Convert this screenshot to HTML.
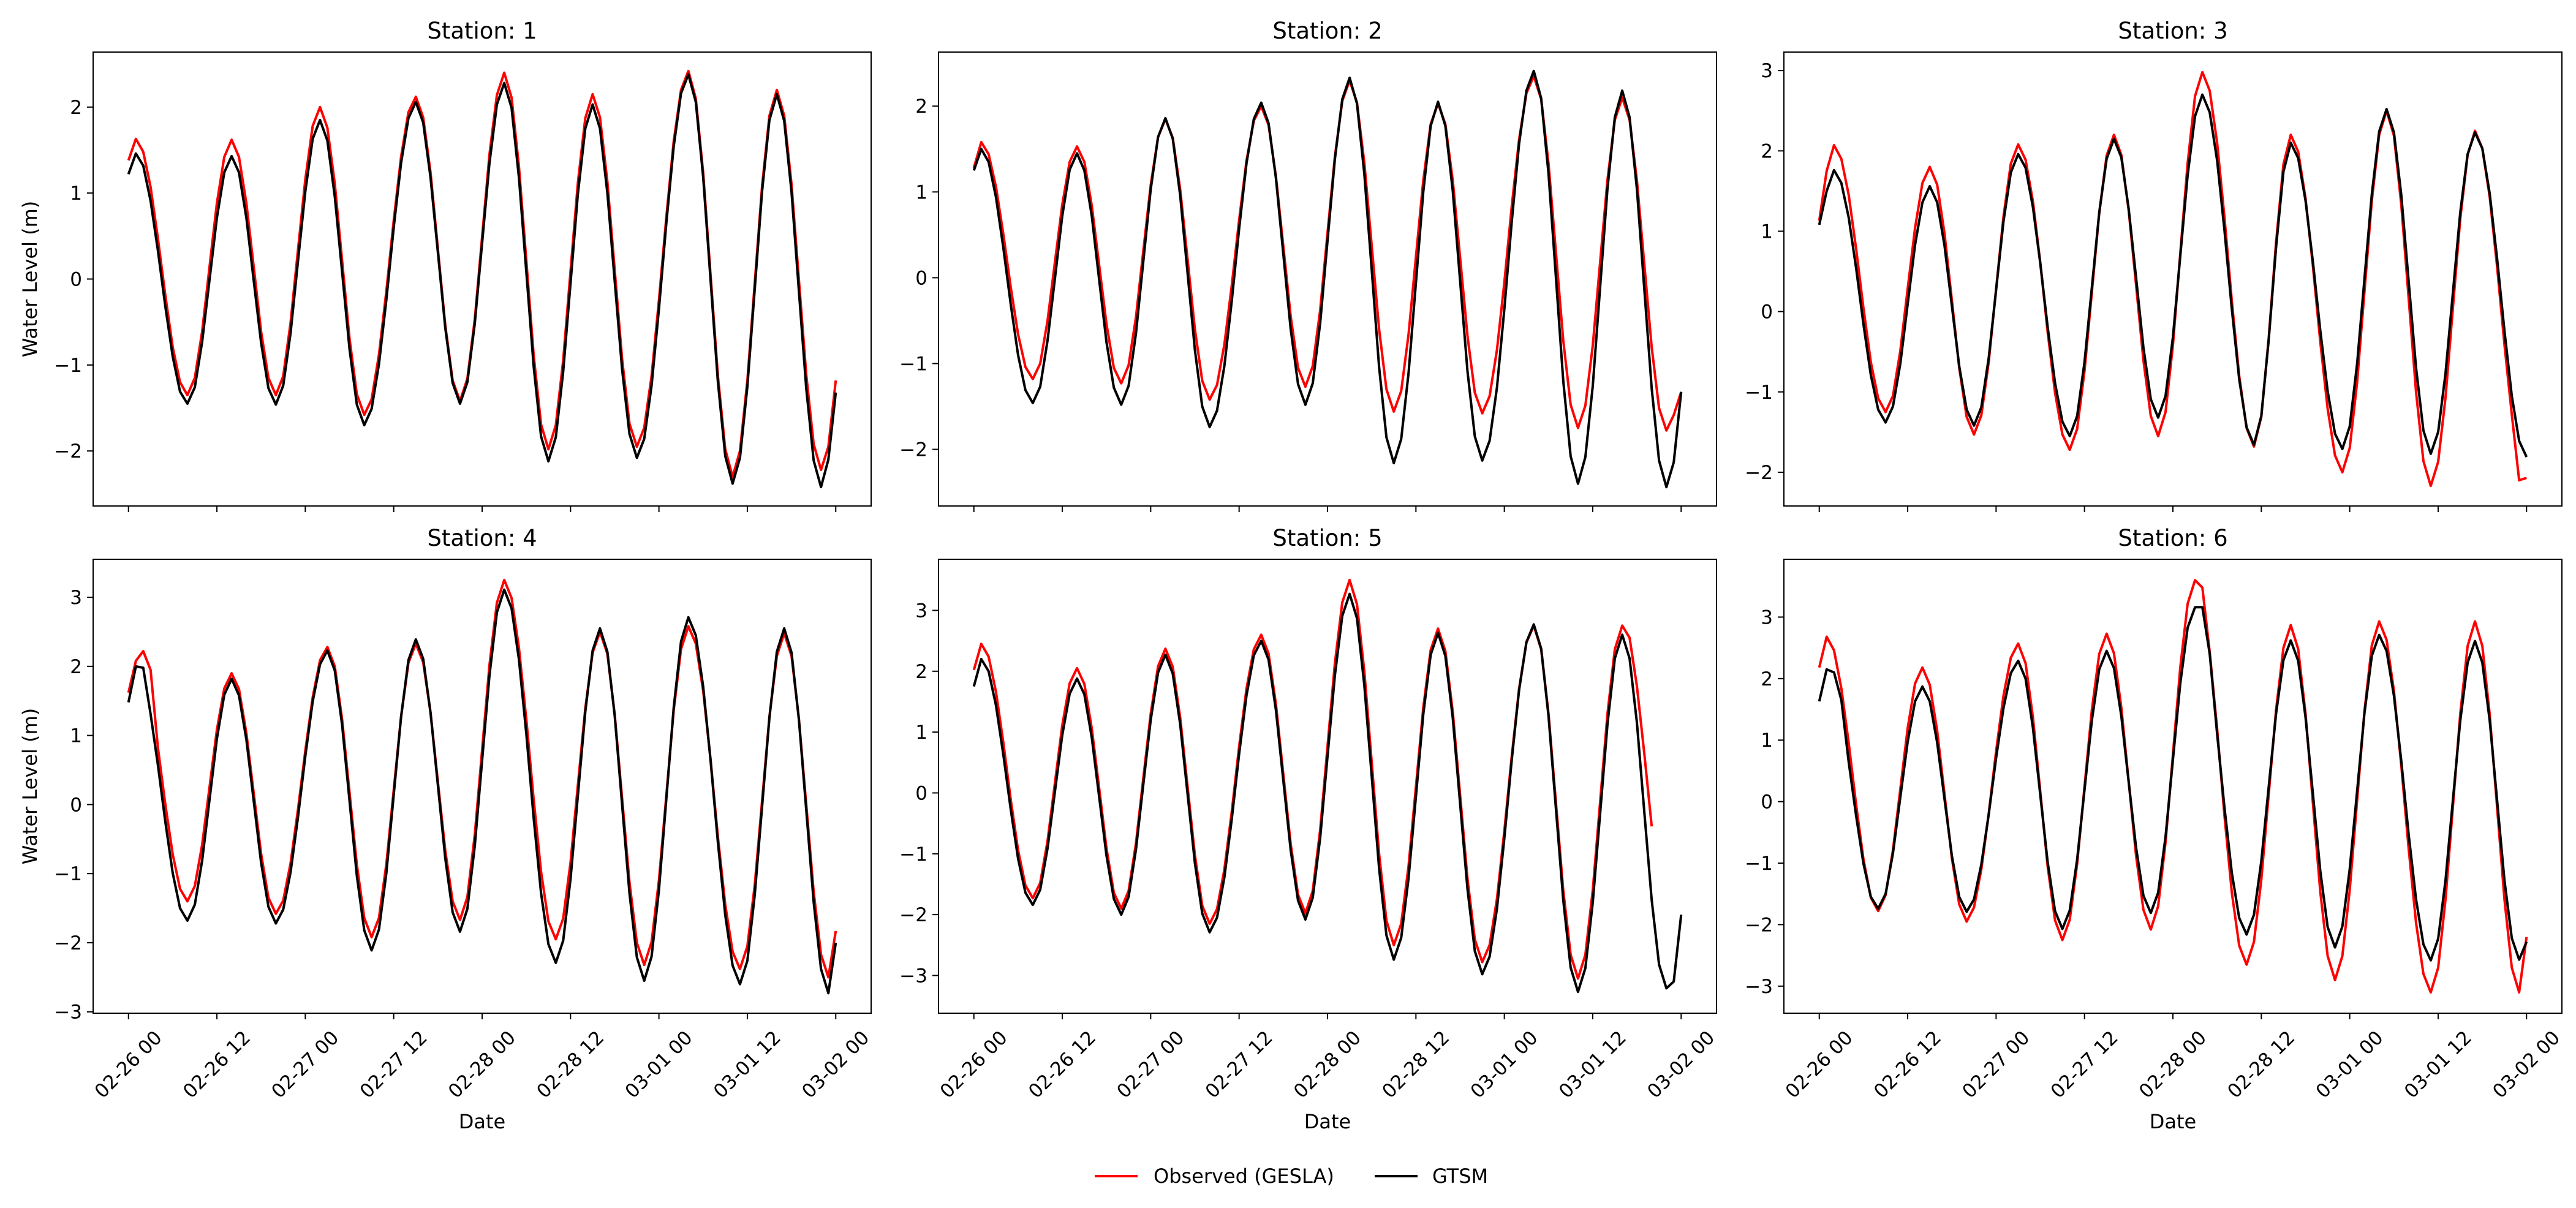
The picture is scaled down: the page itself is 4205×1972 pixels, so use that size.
<!DOCTYPE html>
<html><head><meta charset="utf-8">
<style>
html,body{margin:0;padding:0;background:#fff;}
svg{display:block;font-family:"DejaVu Sans","Liberation Sans",sans-serif;}
</style></head>
<body>
<svg id="fig" width="4205" height="1972" viewBox="0 0 4205 1972" xmlns="http://www.w3.org/2000/svg">
<rect x="0" y="0" width="4205" height="1972" fill="#fff"/>
<g id="legend">
  <g>
    <line x1="1787" y1="1920" x2="1857" y2="1920" stroke="#ff0000" stroke-width="4"/>
    <text x="1883" y="1931" font-size="32">Observed (GESLA)</text>
  </g>
  <g>
    <line x1="2244" y1="1920" x2="2314" y2="1920" stroke="#000" stroke-width="4"/>
    <text x="2338" y="1931" font-size="32">GTSM</text>
  </g>
</g>
</svg>
<script>
const xTickLabels = ["02-26 00","02-26 12","02-27 00","02-27 12","02-28 00","02-28 12","03-01 00","03-01 12","03-02 00"];
const xTickHours = [0,12,24,36,48,60,72,84,96];
const stationNames = ["Station: 1","Station: 2","Station: 3","Station: 4","Station: 5","Station: 6"];
const yLimits = [[-2.64,2.64],[-2.66,2.63],[-2.42,3.23],[-3.02,3.55],[-3.62,3.84],[-3.44,3.94]];
const yTicks = [[-2,-1,0,1,2],[-2,-1,0,1,2],[-2,-1,0,1,2,3],[-3,-2,-1,0,1,2,3],[-3,-2,-1,0,1,2,3],[-3,-2,-1,0,1,2,3]];

const gtsm1 = [1.22,1.46,1.32,0.91,0.33,-0.32,-0.90,-1.31,-1.45,-1.26,-0.73,-0.01,0.71,1.24,1.43,1.24,0.71,-0.02,-0.74,-1.27,-1.46,-1.24,-0.63,0.20,1.02,1.63,1.85,1.61,0.96,0.08,-0.81,-1.46,-1.70,-1.51,-0.99,-0.24,0.60,1.35,1.87,2.06,1.82,1.18,0.31,-0.57,-1.21,-1.45,-1.20,-0.52,0.42,1.35,2.03,2.28,1.99,1.18,0.08,-1.02,-1.83,-2.12,-1.84,-1.08,-0.05,0.99,1.75,2.03,1.75,1.00,-0.03,-1.05,-1.80,-2.08,-1.86,-1.24,-0.35,0.65,1.54,2.16,2.38,2.06,1.19,0.00,-1.19,-2.06,-2.38,-2.08,-1.25,-0.12,1.02,1.85,2.15,1.84,1.01,-0.14,-1.28,-2.11,-2.42,-2.10,-1.32];
const obs1 = [1.38,1.63,1.48,1.07,0.47,-0.19,-0.79,-1.20,-1.35,-1.15,-0.61,0.14,0.88,1.42,1.62,1.42,0.88,0.14,-0.61,-1.15,-1.35,-1.13,-0.51,0.33,1.16,1.78,2.00,1.76,1.11,0.21,-0.69,-1.34,-1.58,-1.40,-0.88,-0.14,0.68,1.42,1.94,2.12,1.88,1.24,0.35,-0.54,-1.18,-1.42,-1.16,-0.47,0.49,1.45,2.14,2.40,2.11,1.31,0.21,-0.89,-1.69,-1.98,-1.70,-0.95,0.09,1.12,1.87,2.15,1.88,1.13,0.10,-0.93,-1.68,-1.95,-1.73,-1.13,-0.25,0.72,1.60,2.20,2.42,2.10,1.24,0.06,-1.12,-1.98,-2.30,-2.00,-1.18,-0.05,1.08,1.90,2.20,1.90,1.10,-0.01,-1.12,-1.92,-2.22,-1.95,-1.18];
const gtsm2 = [1.25,1.50,1.35,0.94,0.35,-0.31,-0.90,-1.31,-1.46,-1.27,-0.73,-0.01,0.72,1.26,1.45,1.25,0.72,-0.02,-0.75,-1.28,-1.48,-1.26,-0.65,0.19,1.03,1.64,1.86,1.62,0.96,0.06,-0.84,-1.50,-1.74,-1.55,-1.03,-0.27,0.57,1.33,1.85,2.04,1.80,1.16,0.28,-0.60,-1.24,-1.48,-1.23,-0.53,0.43,1.38,2.08,2.33,2.03,1.21,0.09,-1.04,-1.86,-2.16,-1.88,-1.11,-0.06,1.00,1.77,2.05,1.77,1.01,-0.04,-1.09,-1.85,-2.13,-1.90,-1.28,-0.37,0.65,1.56,2.18,2.41,2.09,1.21,0.01,-1.20,-2.08,-2.40,-2.09,-1.26,-0.11,1.04,1.87,2.18,1.87,1.03,-0.13,-1.29,-2.13,-2.44,-2.15,-1.33];
const obs2 = [1.28,1.58,1.44,1.06,0.51,-0.11,-0.66,-1.04,-1.18,-1.00,-0.50,0.18,0.85,1.35,1.53,1.35,0.84,0.15,-0.54,-1.05,-1.23,-1.02,-0.46,0.31,1.08,1.64,1.85,1.63,1.03,0.22,-0.60,-1.20,-1.42,-1.25,-0.78,-0.09,0.67,1.36,1.83,2.00,1.78,1.18,0.37,-0.45,-1.05,-1.27,-1.03,-0.38,0.52,1.41,2.06,2.30,2.04,1.34,0.37,-0.60,-1.30,-1.56,-1.32,-0.66,0.24,1.13,1.79,2.03,1.79,1.13,0.23,-0.68,-1.34,-1.58,-1.38,-0.84,-0.06,0.83,1.61,2.15,2.35,2.08,1.33,0.30,-0.73,-1.48,-1.75,-1.49,-0.79,0.18,1.14,1.84,2.10,1.84,1.13,0.16,-0.81,-1.52,-1.78,-1.60,-1.33];
const gtsm3 = [1.08,1.50,1.76,1.60,1.17,0.54,-0.16,-0.79,-1.22,-1.38,-1.18,-0.65,0.09,0.83,1.36,1.56,1.36,0.82,0.07,-0.68,-1.22,-1.42,-1.19,-0.58,0.27,1.12,1.73,1.96,1.79,1.30,0.60,-0.19,-0.89,-1.37,-1.55,-1.30,-0.63,0.30,1.23,1.90,2.15,1.92,1.28,0.42,-0.45,-1.09,-1.32,-1.05,-0.32,0.69,1.70,2.43,2.70,2.48,1.88,1.01,0.03,-0.84,-1.44,-1.66,-1.30,-0.36,0.80,1.74,2.10,1.91,1.38,0.62,-0.23,-0.99,-1.52,-1.71,-1.43,-0.65,0.41,1.46,2.24,2.52,2.23,1.45,0.38,-0.70,-1.48,-1.77,-1.50,-0.77,0.23,1.23,1.96,2.23,2.03,1.47,0.66,-0.24,-1.05,-1.61,-1.81];
const obs3 = [1.13,1.75,2.07,1.90,1.45,0.78,0.04,-0.63,-1.08,-1.25,-1.05,-0.49,0.28,1.04,1.60,1.80,1.58,0.97,0.14,-0.70,-1.31,-1.53,-1.29,-0.63,0.28,1.18,1.84,2.08,1.89,1.37,0.61,-0.25,-1.01,-1.53,-1.72,-1.46,-0.74,0.24,1.22,1.94,2.20,1.95,1.26,0.33,-0.61,-1.30,-1.55,-1.25,-0.42,0.72,1.85,2.68,2.98,2.75,2.10,1.17,0.13,-0.80,-1.45,-1.68,-1.31,-0.34,0.86,1.83,2.20,1.99,1.41,0.57,-0.37,-1.21,-1.79,-2.00,-1.70,-0.88,0.25,1.38,2.20,2.50,2.19,1.33,0.17,-1.00,-1.86,-2.17,-1.87,-1.07,0.04,1.15,1.95,2.25,2.03,1.43,0.56,-0.41,-1.28,-2.10,-2.07];
const gtsm4 = [1.48,2.00,1.98,1.31,0.57,-0.25,-0.99,-1.50,-1.68,-1.45,-0.81,0.07,0.95,1.59,1.82,1.58,0.94,0.05,-0.84,-1.48,-1.72,-1.52,-0.98,-0.19,0.70,1.49,2.03,2.23,1.94,1.15,0.06,-1.03,-1.82,-2.11,-1.81,-0.99,0.14,1.27,2.09,2.39,2.11,1.33,0.28,-0.78,-1.56,-1.84,-1.51,-0.60,0.64,1.87,2.78,3.11,2.84,2.10,1.02,-0.20,-1.28,-2.02,-2.29,-1.97,-1.08,0.13,1.34,2.23,2.55,2.21,1.28,0.00,-1.28,-2.21,-2.55,-2.20,-1.24,0.08,1.40,2.36,2.71,2.45,1.71,0.65,-0.54,-1.60,-2.33,-2.60,-2.26,-1.31,-0.03,1.26,2.21,2.55,2.20,1.23,-0.09,-1.41,-2.38,-2.73,-2.00];
const obs4 = [1.62,2.08,2.22,1.95,0.82,0.00,-0.72,-1.22,-1.40,-1.18,-0.58,0.25,1.08,1.68,1.90,1.67,1.03,0.16,-0.71,-1.35,-1.58,-1.39,-0.85,-0.08,0.78,1.55,2.09,2.28,2.00,1.23,0.18,-0.87,-1.64,-1.92,-1.64,-0.86,0.21,1.27,2.05,2.33,2.06,1.33,0.33,-0.67,-1.40,-1.67,-1.34,-0.44,0.79,2.02,2.92,3.25,2.99,2.27,1.23,0.07,-0.97,-1.69,-1.95,-1.65,-0.84,0.28,1.39,2.20,2.50,2.18,1.30,0.09,-1.12,-2.00,-2.32,-1.99,-1.10,0.13,1.36,2.25,2.58,2.33,1.65,0.66,-0.46,-1.45,-2.13,-2.38,-2.05,-1.17,0.05,1.27,2.15,2.48,2.15,1.24,-0.01,-1.26,-2.17,-2.50,-1.83];
const gtsm5 = [1.75,2.20,2.00,1.44,0.63,-0.27,-1.08,-1.64,-1.84,-1.59,-0.91,0.02,0.95,1.63,1.88,1.62,0.91,-0.06,-1.03,-1.74,-2.00,-1.71,-0.93,0.14,1.20,1.98,2.27,1.96,1.13,-0.01,-1.15,-1.98,-2.29,-2.05,-1.39,-0.43,0.64,1.60,2.26,2.50,2.19,1.36,0.21,-0.94,-1.77,-2.08,-1.72,-0.74,0.60,1.93,2.91,3.27,2.87,1.77,0.27,-1.24,-2.34,-2.74,-2.38,-1.40,-0.06,1.29,2.27,2.63,2.25,1.23,-0.18,-1.58,-2.60,-2.98,-2.69,-1.90,-0.75,0.54,1.69,2.48,2.77,2.37,1.26,-0.25,-1.76,-2.87,-3.27,-2.88,-1.80,-0.34,1.13,2.21,2.60,2.21,1.15,-0.31,-1.76,-2.82,-3.21,-3.10,-2.00];
const obs5 = [2.02,2.45,2.24,1.66,0.83,-0.11,-0.94,-1.52,-1.73,-1.48,-0.79,0.16,1.11,1.80,2.05,1.79,1.06,0.08,-0.91,-1.64,-1.90,-1.61,-0.83,0.24,1.30,2.08,2.37,2.07,1.24,0.11,-1.02,-1.85,-2.15,-1.91,-1.26,-0.31,0.76,1.71,2.36,2.60,2.29,1.46,0.31,-0.84,-1.67,-1.98,-1.61,-0.61,0.76,2.13,3.13,3.50,3.10,2.00,0.50,-1.00,-2.10,-2.50,-2.15,-1.20,0.10,1.40,2.35,2.70,2.33,1.33,-0.04,-1.41,-2.41,-2.78,-2.50,-1.74,-0.63,0.60,1.71,2.47,2.75,2.36,1.30,-0.15,-1.60,-2.66,-3.05,-2.66,-1.60,-0.15,1.30,2.36,2.75,2.55,1.75,0.65,-0.55,null,null,null,null];
const gtsm6 = [1.63,2.15,2.10,1.65,0.64,-0.23,-1.01,-1.55,-1.74,-1.50,-0.84,0.07,0.97,1.63,1.87,1.63,0.96,0.04,-0.88,-1.55,-1.79,-1.59,-1.02,-0.21,0.71,1.52,2.09,2.29,2.00,1.20,0.11,-0.98,-1.78,-2.07,-1.77,-0.94,0.19,1.32,2.15,2.45,2.17,1.39,0.32,-0.75,-1.53,-1.81,-1.48,-0.57,0.68,1.92,2.83,3.16,3.16,2.40,1.10,-0.10,-1.16,-1.89,-2.16,-1.84,-0.97,0.23,1.43,2.30,2.62,2.29,1.37,0.13,-1.12,-2.04,-2.37,-2.03,-1.10,0.17,1.44,2.37,2.71,2.45,1.72,0.66,-0.53,-1.59,-2.32,-2.58,-2.23,-1.28,0.02,1.31,2.26,2.61,2.26,1.32,0.02,-1.28,-2.22,-2.57,-2.28];
const obs6 = [2.18,2.68,2.46,1.84,0.95,-0.05,-0.94,-1.56,-1.78,-1.52,-0.79,0.20,1.19,1.92,2.18,1.90,1.15,0.12,-0.92,-1.67,-1.95,-1.72,-1.10,-0.20,0.82,1.72,2.34,2.57,2.25,1.37,0.16,-1.05,-1.93,-2.25,-1.92,-1.01,0.24,1.49,2.40,2.73,2.41,1.53,0.33,-0.88,-1.76,-2.08,-1.70,-0.66,0.76,2.18,3.22,3.60,3.48,2.43,1.18,-0.23,-1.48,-2.34,-2.65,-2.28,-1.27,0.11,1.49,2.50,2.87,2.48,1.43,-0.02,-1.46,-2.51,-2.90,-2.51,-1.44,0.02,1.47,2.54,2.93,2.63,1.80,0.59,-0.76,-1.97,-2.80,-3.10,-2.70,-1.59,-0.09,1.42,2.53,2.93,2.53,1.42,-0.09,-1.59,-2.70,-3.10,-2.20];

const observedSeries = [obs1,obs2,obs3,obs4,obs5,obs6];
const gtsmSeries = [gtsm1,gtsm2,gtsm3,gtsm4,gtsm5,gtsm6];

const NS = "http://www.w3.org/2000/svg";
const fig = document.getElementById('fig');
const colLeft = [152,1532,2912];
const rowTop = [85,913];
const axW = 1270, axH = 741;
const xMin = -4.8, xMax = 100.8;

function mk(tag, attrs, parent){
  const e = document.createElementNS(NS, tag);
  for (const k in attrs) e.setAttribute(k, attrs[k]);
  parent.appendChild(e);
  return e;
}
function fmt(v){ return v < 0 ? "\u2212" + Math.abs(v) : String(v); }

for (let p = 0; p < 6; p++) {
  const col = p % 3, row = Math.floor(p / 3);
  const L = colLeft[col], T = rowTop[row];
  const [y0, y1] = yLimits[p];
  const xs = h => L + (h - xMin) / (xMax - xMin) * axW;
  const ys = v => T + (y1 - v) / (y1 - y0) * axH;

  const g = mk('g', {}, fig);
  
  

  const title = mk('text', {x: L + axW / 2, y: T - 22, 'font-size': 37, 'text-anchor': 'middle'}, g);
  
  
  title.textContent = stationNames[p];

  // y ticks
  yTicks[p].forEach(v => {
    const y = ys(v);
    const tk = mk('line', {x1: L - 10, x2: L, y1: y, y2: y, stroke: '#000', 'stroke-width': 2}, g);
    
    
    const lb = mk('text', {x: L - 18, y: y + 11, 'font-size': 31, 'text-anchor': 'end'}, g);
    
    
    lb.textContent = fmt(v);
  });
  // x ticks
  xTickHours.forEach((h, i) => {
    const x = xs(h);
    const tk = mk('line', {x1: x, x2: x, y1: T + axH, y2: T + axH + 10, stroke: '#000', 'stroke-width': 2}, g);
    
    
    if (row === 1) {
      const cy = T + axH + 84;
      const lb = mk('text', {x: x, y: cy, 'font-size': 31, 'text-anchor': 'middle', 'dominant-baseline': 'central', transform: 'rotate(-45 ' + x + ' ' + cy + ')'}, g);
      
      
      lb.textContent = xTickLabels[i];
    }
  });
  if (row === 1) {
    const xl = mk('text', {x: L + axW / 2, y: 1842, 'font-size': 32, 'text-anchor': 'middle'}, g);
    
    
    xl.textContent = 'Date';
  }
  if (col === 0) {
    const cy = T + axH / 2;
    const yl = mk('text', {x: 49, y: cy, 'font-size': 32, 'text-anchor': 'middle', 'dominant-baseline': 'central', transform: 'rotate(-90 49 ' + cy + ')'}, g);
    
    
    yl.textContent = 'Water Level (m)';
  }

  function pathFor(arr){
    let d = '', pen = false;
    arr.forEach((v, h) => {
      if (v === null || v === undefined) { pen = false; return; }
      d += (pen ? 'L' : 'M') + xs(h).toFixed(1) + ' ' + ys(v).toFixed(1);
      pen = true;
    });
    return d;
  }
  const ro = mk('path', {d: pathFor(observedSeries[p]), fill: 'none', stroke: '#ff0000', 'stroke-width': 4, 'stroke-linejoin': 'round'}, g);
  
  
  const bk = mk('path', {d: pathFor(gtsmSeries[p]), fill: 'none', stroke: '#000', 'stroke-width': 4, 'stroke-linejoin': 'round'}, g);
  
  

  const frame = mk('rect', {x: L, y: T, width: axW, height: axH, fill: 'none', stroke: '#000', 'stroke-width': 2}, g);
  
  
}
</script>
</body></html>
